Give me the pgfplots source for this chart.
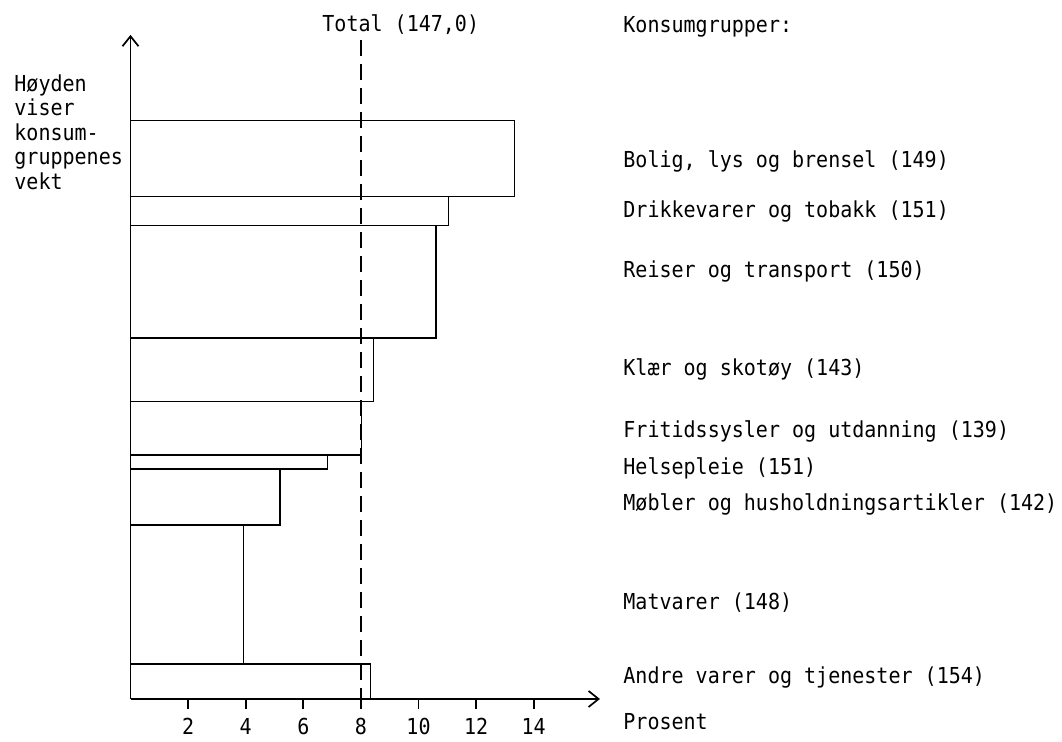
\documentclass[border=0pt]{standalone}
\usepackage{fontspec}
\usepackage{pgfplots}
\pgfplotsset{compat=1.18}
\usetikzlibrary{arrows.meta}
\newfontfamily\tw[FakeStretch=0.91]{DejaVu Sans Mono}
\newcommand\twf{\tw\fontsize{11pt}{12pt}\selectfont}
\begin{document}
\begin{tikzpicture}
\path (0pt,0pt) rectangle (531pt,366.5pt);
\begin{axis}[
  at={(65.25pt,17pt)}, anchor=south west,
  x=14.4pt, y=0.2895pt,
  xmin=0, xmax=16.3, ymin=0, ymax=1147,
  axis lines=left,
  axis line style={line width=0.85pt, -{Straight Barb[length=5pt,width=8pt]}},
  xtick={2,4,6,8,10,12,14},
  ytick=\empty,
  tick align=outside,
  major tick length=5pt,
  every tick/.style={black, line width=0.85pt},
  xticklabel style={font=\twf, yshift=-1pt},
  /pgf/number format/assume math mode=true,
  no marks,
  clip=false,
]
% Andre varer og tjenester
\addplot[black, line width=0.85pt] coordinates {(0,0) (8.33,0) (8.33,60) (0,60)};
% Matvarer
\addplot[black, line width=0.85pt] coordinates {(0,60) (3.92,60) (3.92,300) (0,300)};
% Moebler
\addplot[black, line width=0.85pt] coordinates {(0,300) (5.2,300) (5.2,397) (0,397)};
% Helsepleie
\addplot[black, line width=0.85pt] coordinates {(0,397) (6.84,397) (6.84,421) (0,421)};
% Fritid
\addplot[black, line width=0.85pt] coordinates {(0,421) (8.02,421) (8.02,514) (0,514)};
% Klaer
\addplot[black, line width=0.85pt] coordinates {(0,514) (8.44,514) (8.44,623) (0,623)};
% Reiser
\addplot[black, line width=0.85pt] coordinates {(0,623) (10.6,623) (10.6,818) (0,818)};
% Drikkevarer
\addplot[black, line width=0.85pt] coordinates {(0,818) (11.04,818) (11.04,868) (0,868)};
% Bolig
\addplot[black, line width=0.85pt] coordinates {(0,868) (13.33,868) (13.33,999) (0,999)};
% Total
\addplot[black, line width=0.85pt, dash pattern=on 8pt off 4pt] coordinates {(8,1138) (8,0)};
\end{axis}
\begin{scope}[every node/.style={anchor=base west, inner sep=0pt, font=\twf}]
\node at (161pt,350.65pt) {Total (147,0)};
\node at (311.5pt,350.35pt) {Konsumgrupper:};
\node at (311.5pt,282.65pt) {Bolig, lys og brensel (149)};
\node at (311.5pt,257.85pt) {Drikkevarer og tobakk (151)};
\node at (311.5pt,227.65pt) {Reiser og transport (150)};
\node at (311.5pt,178.65pt) {Klær og skotøy (143)};
\node at (311.5pt,147.65pt) {Fritidssysler og utdanning (139)};
\node at (311.5pt,129.35pt) {Helsepleie (151)};
\node at (311.5pt,111.15pt) {Møbler og husholdningsartikler (142)};
\node at (311.5pt,61.85pt) {Matvarer (148)};
\node at (311.5pt,24.85pt) {Andre varer og tjenester (154)};
\node at (311.5pt,1.5pt) {Prosent};
\node at (7pt,320.5pt) {Høyden};
\node at (7pt,308.5pt) {viser};
\node at (7pt,296pt) {konsum-};
\node at (7pt,284pt) {gruppenes};
\node at (7pt,271.5pt) {vekt};
\end{scope}
\end{tikzpicture}
\end{document}
